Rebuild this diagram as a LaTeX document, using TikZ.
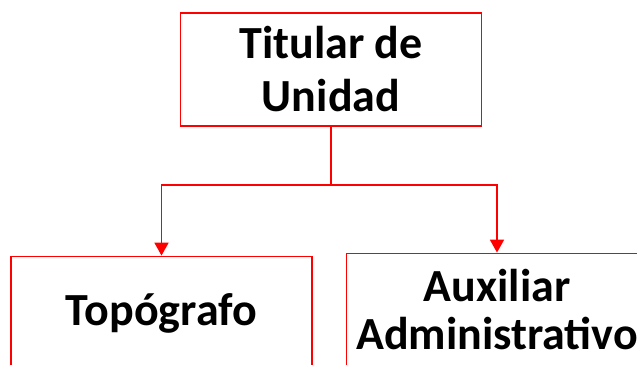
\documentclass[tikz,border=0pt]{standalone}
\usepackage{fontspec}
\setmainfont{Carlito}
\usetikzlibrary{arrows.meta}
\definecolor{boxred}{RGB}{255,0,0}
\tikzset{
  orgbox/.style={draw=boxred, line width=1.8pt, minimum width=301pt, minimum height=113pt,
    inner sep=0pt, align=center, font=\fontsize{46}{53}\selectfont\bfseries},
  bottombox/.style={orgbox, font=\fontsize{46}{48}\selectfont\bfseries},
  conn/.style={draw=boxred, line width=1.8pt, -{Triangle[width=14pt,length=13pt]}}
}
\begin{document}
\begin{tikzpicture}[x=1pt,y=-1pt]
\useasboundingbox (0,0) rectangle (637,364);
\clip (0,0) rectangle (637,364);
\node[orgbox] (top) at (331,69.5) {Titular de\\Unidad};
\node[bottombox] (left) at (161.5,313) {Topógrafo};
\node[bottombox] (right) at (497,310) {Auxiliar\\Administrativo};
\coordinate (mid) at (331,185);
\draw[conn] (top.south) -- (mid) -| (left.north);
\draw[conn] (mid) -| (right.north);
\end{tikzpicture}
\end{document}
